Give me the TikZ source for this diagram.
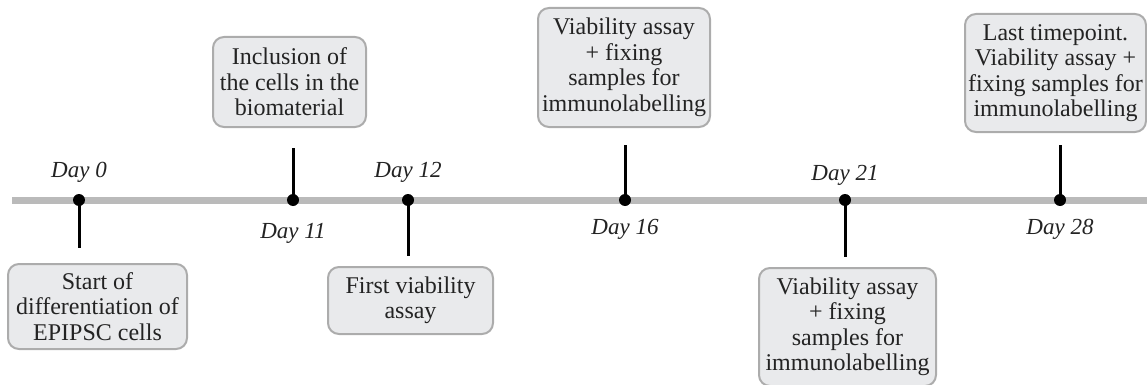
\documentclass[tikz,border=0pt]{standalone}
\usepackage{fontspec}
\setmainfont{Liberation Serif}
\definecolor{boxfill}{RGB}{233,234,236}
\definecolor{boxline}{RGB}{172,172,172}
\definecolor{axisgray}{RGB}{186,186,186}
\definecolor{txt}{RGB}{35,35,35}
\begin{document}
\begin{tikzpicture}[x=1pt,y=-1pt,
  event/.style={draw=boxline, line width=2pt, fill=boxfill, rounded corners=11pt,
    align=center, inner sep=0pt, text=txt, font=\fontsize{24}{25.5}\selectfont},
  daylabel/.style={font=\fontsize{23}{25}\selectfont\itshape, text=txt},
  dot/.style={circle, fill=black, inner sep=0pt, minimum size=12pt},
  tick/.style={line width=3pt, black}]
\useasboundingbox (0,0) rectangle (1147,385);
\coordinate (start) at (12,200);
\coordinate (end) at (1147,200);
\draw[axisgray, line width=7pt] (start) -- (end);
\foreach \px/\dd/\ly/\ey [count=\n] in {
    79/0/172/248, 293/11/233/148, 408/12/172/256,
    625/16/229/145, 845/21/175/257, 1060/28/229/145
  } {
    \coordinate (t\n) at (\px,\ey);
    \node[dot] (d\n) at (\px,200) {};
    \draw[tick] (d\n.center) -- (t\n);
    \node[daylabel] (l\n) at (\px,\ly) {Day \dd};
  }
\node[event, minimum width=179pt, minimum height=85pt] (b1) at (97.5,306.5)
  {Start of\\differentiation of\\EPIPSC cells};
\node[event, minimum width=153pt, minimum height=90pt] (b2) at (289.5,82)
  {Inclusion of\\the cells in the\\biomaterial};
\node[event, minimum width=165pt, minimum height=67pt] (b3) at (410.5,300.5)
  {First viability\\assay};
\node[event, minimum width=172pt, minimum height=119pt] (b4) at (624,67.5)
  {Viability assay\\+ fixing\\samples for\\immunolabelling};
\node[event, minimum width=177pt, minimum height=118pt] (b5) at (847.5,327)
  {Viability assay\\+ fixing\\samples for\\immunolabelling};
\node[event, minimum width=181pt, minimum height=118pt] (b6) at (1055.5,73)
  {Last timepoint.\\Viability assay +\\fixing samples for\\immunolabelling};
\end{tikzpicture}
\end{document}
